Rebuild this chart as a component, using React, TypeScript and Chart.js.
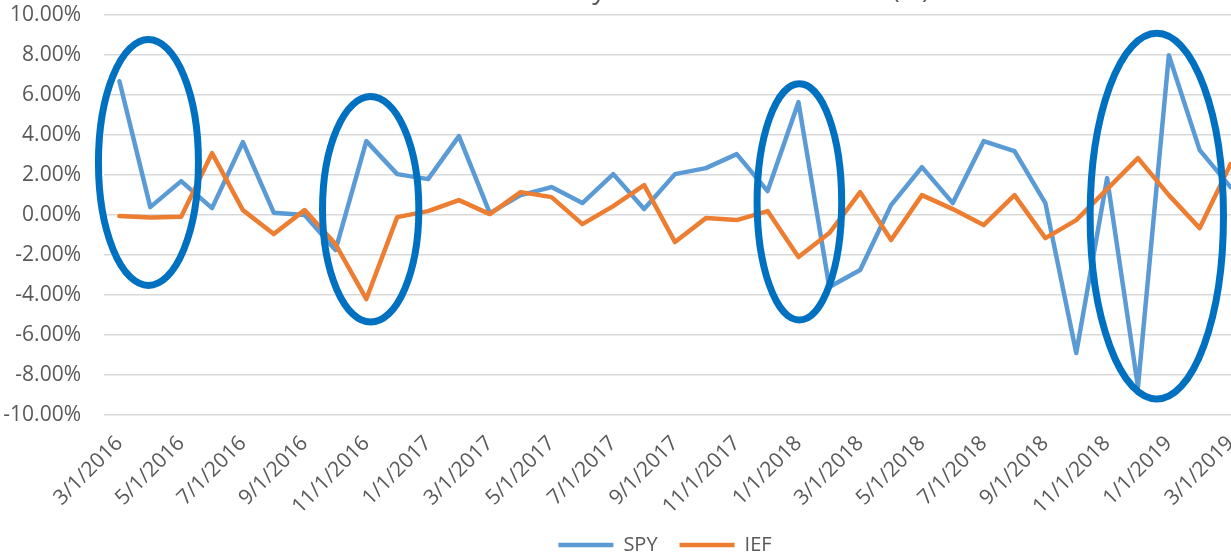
import React, { useEffect, useRef } from 'react';
import { Chart, registerables } from 'chart.js';

Chart.register(...registerables);

const chartTitle = 'Monthly Returns for SPY vs IEF (%)';

const dates = [
  '3/1/2016', '4/1/2016', '5/1/2016', '6/1/2016', '7/1/2016', '8/1/2016', '9/1/2016', '10/1/2016', '11/1/2016', '12/1/2016',
  '1/1/2017', '2/1/2017', '3/1/2017', '4/1/2017', '5/1/2017', '6/1/2017', '7/1/2017', '8/1/2017', '9/1/2017', '10/1/2017', '11/1/2017', '12/1/2017',
  '1/1/2018', '2/1/2018', '3/1/2018', '4/1/2018', '5/1/2018', '6/1/2018', '7/1/2018', '8/1/2018', '9/1/2018', '10/1/2018', '11/1/2018', '12/1/2018',
  '1/1/2019', '2/1/2019', '3/1/2019',
];

const spyReturns = [
  6.7, 0.4, 1.7, 0.35, 3.65, 0.12, 0.0, -1.75, 3.7, 2.05,
  1.8, 3.95, 0.1, 1.0, 1.4, 0.6, 2.05, 0.3, 2.05, 2.35, 3.05, 1.2,
  5.65, -3.6, -2.75, 0.5, 2.4, 0.6, 3.7, 3.2, 0.6, -6.9, 1.85, -8.6,
  8.0, 3.25, 1.4,
];

const iefReturns = [
  -0.05, -0.12, -0.08, 3.1, 0.25, -0.95, 0.25, -1.45, -4.2, -0.1,
  0.2, 0.75, 0.05, 1.15, 0.9, -0.45, 0.45, 1.5, -1.35, -0.15, -0.25, 0.2,
  -2.1, -0.9, 1.15, -1.25, 1.0, 0.3, -0.5, 1.0, -1.15, -0.25, 1.3, 2.85,
  1.0, -0.65, 2.55,
];

// Highlight ellipses (annotation), in category-index / percent units
const ellipseCenterIndex = [0.94, 8.14, 22.03, 33.61];
const ellipseCenterValue = [2.63, 0.29, 0.66, -0.05];
const ellipseHalfWidth = [1.62, 1.56, 1.37, 2.16];
const ellipseHalfHeight = [6.15, 5.64, 5.91, 9.15];

const FONT = "'Open Sans', sans-serif";
const TEXT = '#595959';

const ellipsePlugin = {
  id: 'highlightEllipses',
  afterDatasetsDraw(chart: any) {
    const { ctx } = chart;
    const xs = chart.scales.x;
    const ys = chart.scales.y;
    ctx.save();
    ctx.strokeStyle = '#0070C0';
    ctx.lineWidth = 7;
    for (let i = 0; i < ellipseCenterIndex.length; i++) {
      const cx = xs.getPixelForValue(ellipseCenterIndex[i]);
      const cy = ys.getPixelForValue(ellipseCenterValue[i]);
      const rx = Math.abs(xs.getPixelForValue(ellipseCenterIndex[i] + ellipseHalfWidth[i]) - cx);
      const ry = Math.abs(ys.getPixelForValue(ellipseCenterValue[i] + ellipseHalfHeight[i]) - cy);
      ctx.beginPath();
      ctx.ellipse(cx, cy, rx, ry, 0, 0, Math.PI * 2);
      ctx.stroke();
    }
    ctx.restore();
  },
};

const titlePlugin = {
  id: 'offsetTitle',
  afterDraw(chart: any) {
    const { ctx } = chart;
    ctx.save();
    ctx.font = `27px ${FONT}`;
    ctx.fillStyle = TEXT;
    ctx.textAlign = 'center';
    ctx.textBaseline = 'middle';
    ctx.fillText(chartTitle, 716, 13);
    ctx.restore();
  },
};

export default function App() {
  const ref = useRef<HTMLCanvasElement | null>(null);

  useEffect(() => {
    if (!ref.current) return;
    const chart = new Chart(ref.current, {
      type: 'line',
      data: {
        labels: dates,
        datasets: [
          {
            label: 'SPY',
            data: spyReturns,
            borderColor: '#5B9BD5',
            backgroundColor: '#5B9BD5',
            borderWidth: 4.5,
            pointRadius: 0,
            tension: 0,
            borderCapStyle: 'round',
            borderJoinStyle: 'round',
            order: 1,
          },
          {
            label: 'IEF',
            data: iefReturns,
            borderColor: '#ED7D31',
            backgroundColor: '#ED7D31',
            borderWidth: 4.5,
            pointRadius: 0,
            tension: 0,
            borderCapStyle: 'round',
            borderJoinStyle: 'round',
            order: 0,
          },
        ],
      },
      options: {
        responsive: false,
        animation: false,
        layout: { padding: { top: 38.2, left: 0, right: 0, bottom: 0 } },
        plugins: {
          title: { display: false },
          legend: {
            position: 'bottom',
            labels: {
              color: TEXT,
              font: { family: FONT, size: 20 },
              usePointStyle: true,
              pointStyle: 'line',
              pointStyleWidth: 55,
              padding: 22,
              sort: (a: any, b: any) => a.datasetIndex - b.datasetIndex,
            },
          },
          tooltip: { enabled: false },
        },
        scales: {
          x: {
            offset: true,
            grid: { display: false, drawTicks: false },
            border: { display: false },
            ticks: {
              autoSkip: false,
              minRotation: 45,
              maxRotation: 45,
              padding: 16,
              color: TEXT,
              font: { family: FONT, size: 21 },
              callback: (_v: any, i: number) => (i % 2 === 0 ? dates[i] : ''),
            },
            afterFit: (s: any) => {
              s.height = 98;
            },
          },
          y: {
            min: -10,
            max: 10,
            grid: { color: '#D9D9D9', lineWidth: 1.5, drawTicks: false },
            border: { display: false },
            ticks: {
              stepSize: 2,
              padding: 23,
              color: TEXT,
              font: { family: FONT, size: 21 },
              callback: (v: any) => Number(v).toFixed(2) + '%',
            },
            afterFit: (s: any) => {
              s.width = 104;
            },
          },
          yRight: {
            position: 'right',
            display: true,
            grid: { display: false, drawTicks: false },
            border: { display: false },
            ticks: { display: false },
            afterFit: (s: any) => {
              s.width = 84;
            },
          },
        },
      },
      plugins: [ellipsePlugin, titlePlugin],
    });
    return () => chart.destroy();
  }, []);

  return (
    <div
      style={{
        position: 'fixed',
        left: 0,
        top: 0,
        width: 1231,
        height: 558,
        overflow: 'hidden',
        background: '#ffffff',
      }}
    >
      <div style={{ position: 'absolute', left: 0, top: -23, width: 1330, height: 588 }}>
        <canvas ref={ref} width={1330} height={588} style={{ width: 1330, height: 588 }} />
      </div>
    </div>
  );
}
